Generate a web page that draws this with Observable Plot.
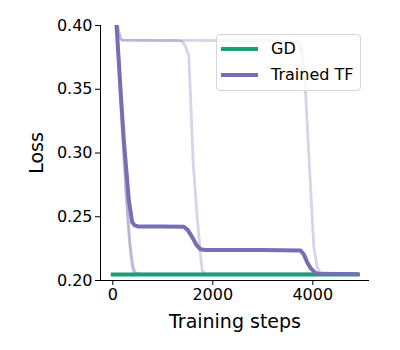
<!DOCTYPE html>
<html>
<head>
<meta charset="utf-8">
<script src="https://cdn.jsdelivr.net/npm/d3@7"></script>
<script src="https://cdn.jsdelivr.net/npm/@observablehq/plot@0.6"></script>
<style>
  body { margin: 0; background: #fff; }
  #chart { position: relative; width: 400px; height: 350px; font-family: "DejaVu Sans", sans-serif; }
  .legend { position: absolute; left: 216px; top: 34px; width: 145px; height: 57px; box-sizing: border-box;
            border: 1px solid #d6d6d6; border-radius: 4px; background: rgba(255,255,255,0.8); }
  .legend .sw { position: absolute; left: 4px; width: 37px; height: 4px; }
  .legend .lab { position: absolute; left: 54px; font-size: 16px; color: #000; white-space: nowrap; line-height: 20px; }
</style>
</head>
<body>
<div id="chart"></div>
<script>
// ---- data ----
const xTicks = [0, 2000, 4000];
const yTicks = [0.20, 0.25, 0.30, 0.35, 0.40];
const xDomain = [-246, 5134];
const yDomain = [0.20, 0.40];

const seriesNames = ["GD", "Trained TF"];
const seriesColors = ["#1b9e77", "#7570b3"];

const gdSteps = [0, 4900];
const gdLoss = [0.2047, 0.2047];

const tfSteps = [0, 75, 168, 220, 320, 388, 440, 500, 1000, 1420, 1500, 1588, 1680, 1754, 1850, 3000, 3754, 3820, 3887, 3960, 4054, 4120, 4900];
const tfLoss  = [0.45, 0.40, 0.341, 0.31, 0.263, 0.2457, 0.2432, 0.2424, 0.2424, 0.2421, 0.2395, 0.234, 0.2275, 0.2245, 0.2240, 0.2240, 0.2236, 0.2205, 0.2144, 0.2095, 0.2060, 0.2052, 0.2050];

const runASteps = [0, 90, 150, 190, 600, 1300, 1388, 1450, 1520, 1554, 1608, 1688, 1750, 1788, 1850, 4900];
const runALoss  = [0.46, 0.40, 0.39, 0.3885, 0.3883, 0.3882, 0.3875, 0.384, 0.376, 0.344, 0.2918, 0.2497, 0.222, 0.2078, 0.2052, 0.2050];

const runBSteps = [0, 90, 150, 190, 1000, 3000, 3700, 3780, 3830, 3855, 3922, 3948, 4020, 4088, 4150, 4900];
const runBLoss  = [0.46, 0.40, 0.39, 0.3885, 0.3883, 0.3882, 0.3875, 0.380, 0.365, 0.3475, 0.298, 0.2784, 0.2261, 0.2104, 0.2055, 0.2050];

const runCSteps = [0, 80, 170, 250, 330, 380, 420, 500, 4900];
const runCLoss  = [0.47, 0.40, 0.33, 0.275, 0.232, 0.213, 0.2065, 0.2052, 0.2050];

const runDSteps = [0, 100, 200, 280, 350, 410, 460, 550, 4900];
const runDLoss  = [0.46, 0.39, 0.32, 0.262, 0.226, 0.21, 0.2058, 0.2051, 0.2050];

// ---- build ----
const rows = (s, l) => s.map((v, i) => ({step: v, loss: l[i]}));
const runs = [rows(runASteps, runALoss), rows(runBSteps, runBLoss), rows(runCSteps, runCLoss), rows(runDSteps, runDLoss)];

const plot = Plot.plot({
  width: 400, height: 350,
  marginLeft: 100, marginRight: 31, marginTop: 25, marginBottom: 70,
  style: {fontFamily: "DejaVu Sans, sans-serif", fontSize: "16px", color: "#000", background: "#fff", overflow: "visible"},
  x: {domain: xDomain},
  y: {domain: yDomain},
  marks: [
    ...runs.map(r => Plot.line(r, {x: "step", y: "loss", stroke: seriesColors[1], strokeOpacity: 0.3, strokeWidth: 2.8, clip: true})),
    Plot.line(rows(gdSteps, gdLoss), {x: "step", y: "loss", stroke: seriesColors[0], strokeWidth: 4, strokeLinecap: "square", clip: true}),
    Plot.line(rows(tfSteps, tfLoss), {x: "step", y: "loss", stroke: seriesColors[1], strokeWidth: 4, clip: true}),
    Plot.ruleX([xDomain[0]], {stroke: "#000", strokeWidth: 1}),
    Plot.ruleY([yDomain[0]], {stroke: "#000", strokeWidth: 1}),
    Plot.axisX({ticks: xTicks, tickSize: 5, tickPadding: 3, tickFormat: d => String(d), label: "Training steps", labelAnchor: "center", labelOffset: 47}),
    Plot.axisY({ticks: yTicks, tickSize: 5, tickPadding: 3, tickFormat: d => d.toFixed(2), label: "Loss", labelAnchor: "center", labelArrow: "none", labelOffset: 71})
  ]
});
const container = document.getElementById("chart");
container.appendChild(plot);
d3.select(plot).selectAll('g[aria-label="x-axis label"], g[aria-label="y-axis label"]').attr("font-size", 19).style("font-size", "19px");
d3.select(plot).selectAll('g[aria-label="x-axis label"] text').text("Training steps");
d3.select(plot).selectAll('g[aria-label="y-axis label"] text').text("Loss");

// legend
const legend = document.createElement("div");
legend.className = "legend";
seriesNames.forEach((name, i) => {
  const sw = document.createElement("div");
  sw.className = "sw";
  sw.style.top = (i === 0 ? 11.5 : 38) + "px";
  sw.style.background = seriesColors[i];
  const lab = document.createElement("div");
  lab.className = "lab";
  lab.style.top = (i === 0 ? 3.5 : 30) + "px";
  lab.textContent = name;
  legend.appendChild(sw);
  legend.appendChild(lab);
});
container.appendChild(legend);
</script>
</body>
</html>
